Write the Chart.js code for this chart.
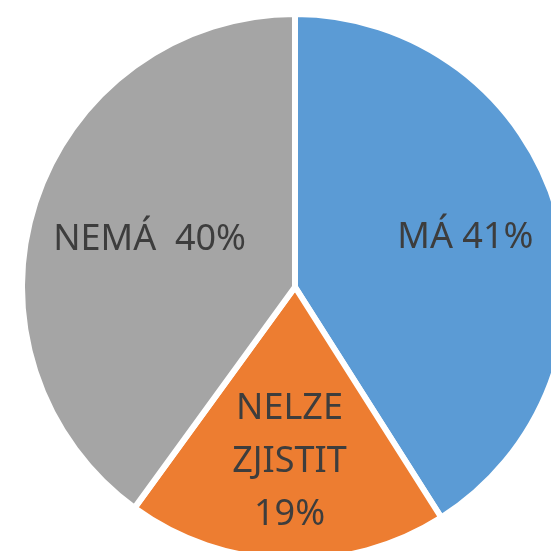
<!DOCTYPE html>
<html>
<head>
<meta charset="utf-8">
<script src="https://cdn.jsdelivr.net/npm/chart.js@4/dist/chart.umd.min.js"></script>
<style>
  html, body { margin: 0; padding: 0; background: #fff; overflow: hidden; width: 551px; height: 551px; }
  #wrap { position: absolute; left: 19px; top: 11px; width: 552px; height: 552px; }
</style>
</head>
<body>
<div id="wrap"><canvas id="myChart"></canvas></div>
<script>
// categories and shares (percent)
const categories = ['MÁ', 'NELZE ZJISTIT', 'NEMÁ'];
const shares = [41, 19, 40];
// label text lines as printed on the slices
const labelLines = [['MÁ 41%'], ['NELZE', 'ZJISTIT', '19%'], ['NEMÁ  40%']];
const colors = ['#5B9BD5', '#ED7D31', '#A5A5A5'];

// where along the radius each label sits (fraction of outer radius)
const labelRadius = [0.65, 0.64, 0.56];

const sliceLabels = {
  id: 'sliceLabels',
  afterDatasetsDraw(chart) {
    const ctx = chart.ctx;
    const arcs = chart.getDatasetMeta(0).data;
    ctx.save();
    ctx.fillStyle = '#3d3d3d';
    ctx.font = '36px "Liberation Sans Narrow", "Noto Sans", sans-serif';
    ctx.textAlign = 'center';
    ctx.textBaseline = 'middle';
    arcs.forEach((arc, i) => {
      const mid = (arc.startAngle + arc.endAngle) / 2;
      const r = arc.outerRadius * labelRadius[i];
      const x = arc.x + Math.cos(mid) * r;
      const y = arc.y + Math.sin(mid) * r;
      const lines = labelLines[i];
      const lh = 53;
      lines.forEach((t, j) => {
        ctx.fillText(t, x, y + (j - (lines.length - 1) / 2) * lh);
      });
    });
    ctx.restore();
  }
};

new Chart(document.getElementById('myChart').getContext('2d'), {
  type: 'pie',
  data: {
    labels: categories,
    datasets: [{
      data: shares,
      backgroundColor: colors,
      borderColor: '#ffffff',
      borderWidth: 6
    }]
  },
  options: {
    responsive: true,
    maintainAspectRatio: false,
    animation: false,
    layout: { padding: 0 },
    plugins: {
      legend: { display: false },
      tooltip: { enabled: false }
    }
  },
  plugins: [sliceLabels]
});
</script>
</body>
</html>
